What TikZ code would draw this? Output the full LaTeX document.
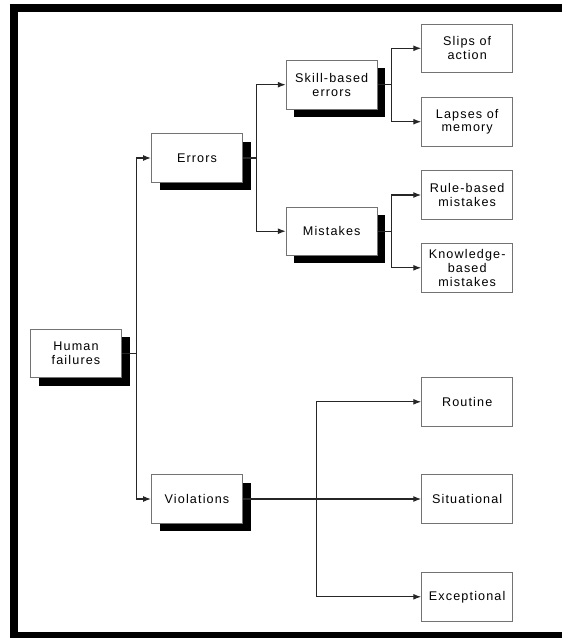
\documentclass[tikz,border=0pt]{standalone}
\usepackage{fontspec}
\setmainfont{Liberation Sans}[LetterSpace=9]
\usetikzlibrary{arrows.meta,shadows}
\begin{document}
\begin{tikzpicture}[x=1pt,y=-1pt,
  box/.style={draw=black!55, line width=0.9pt, fill=white, rectangle,
    minimum width=91pt, minimum height=48.5pt, inner sep=1pt, align=center,
    font=\fontsize{12.6}{13.7}\selectfont},
  shbox/.style={box, drop shadow={shadow xshift=8pt, shadow yshift=-8pt, fill=black, opacity=1}},
  conn/.style={line width=1.2pt, black!85},
  arr/.style={conn, -{Latex[length=8pt,width=6pt]}}]
\useasboundingbox (0,0) rectangle (562,638);
% frame
\fill[black] (10,4) rectangle (562,12);
\fill[black] (10,4) rectangle (18,638);
\fill[black] (10,632) rectangle (562,638);
% nodes
\node[shbox] (human) at (76,353.3) {Human\\failures};
\node[shbox] (errors) at (197,158) {Errors};
\node[shbox] (violations) at (197,499) {Violations};
\node[shbox] (skill) at (331.7,84.7) {Skill-based\\errors};
\node[shbox] (mistakes) at (331.7,231.2) {Mistakes};
\node[box] (slips) at (467.2,48.3) {Slips of\\action};
\node[box] (lapses) at (467.2,121.7) {Lapses of\\memory};
\node[box] (rule) at (467.2,195) {Rule-based\\mistakes};
\node[box] (knowledge) at (467.2,267.8) {Knowledge-\\based\\mistakes};
\node[box] (routine) at (467.2,401.8) {Routine};
\node[box] (situational) at (467.2,499) {Situational};
\node[box] (exceptional) at (467.2,596.8) {Exceptional};
% branch points
\coordinate (hb) at (136.7,353.3);
\coordinate (eb) at (256.7,158);
\coordinate (sb) at (391.7,84.7);
\coordinate (mb) at (391.7,231.2);
\coordinate (vb) at (316.7,499);
% connectors
\draw[conn] (human.east) -- (hb);
\draw[arr] (hb) |- (errors.west);
\draw[arr] (hb) |- (violations.west);
\draw[conn] (errors.east) -- (eb);
\draw[arr] (eb) |- (skill.west);
\draw[arr] (eb) |- (mistakes.west);
\draw[conn] (skill.east) -- (sb);
\draw[arr] (sb) |- (slips.west);
\draw[arr] (sb) |- (lapses.west);
\draw[conn] (mistakes.east) -- (mb);
\draw[arr] (mb) |- (rule.west);
\draw[arr] (mb) |- (knowledge.west);
\draw[arr] (violations.east) -- (situational.west);
\draw[arr] (vb) |- (routine.west);
\draw[arr] (vb) |- (exceptional.west);
\end{tikzpicture}
\end{document}
